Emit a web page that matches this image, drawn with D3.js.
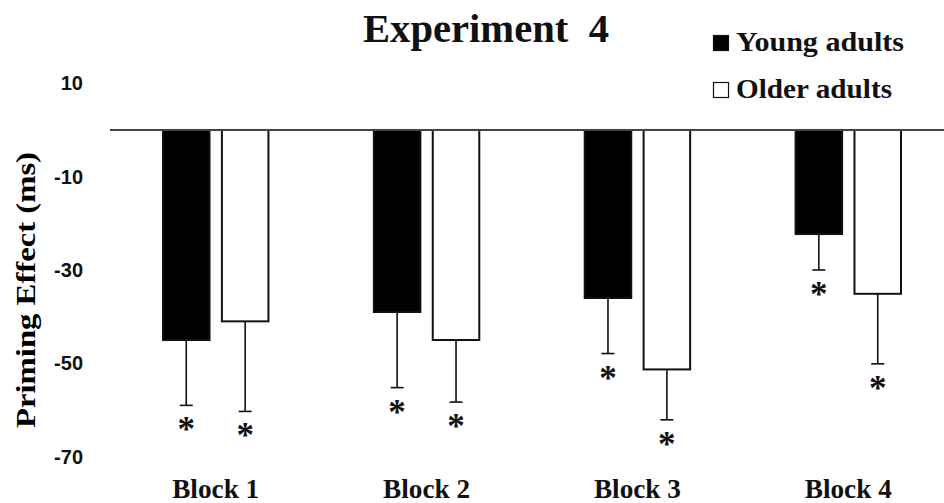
<!DOCTYPE html>
<html>
<head>
<meta charset="utf-8">
<script src="https://cdn.jsdelivr.net/npm/d3@7"></script>
<style>
  html, body { margin: 0; padding: 0; background: #fff; }
  svg { display: block; }
</style>
</head>
<body>
<svg id="chart" width="944" height="503"></svg>
<script>
// Priming effect (ms) per block, with the standard error shown below each bar
const blocks = ["Block 1", "Block 2", "Block 3", "Block 4"];
const groups = ["Young adults", "Older adults"];
const youngMeans = [-45, -39, -36, -22.3];
const youngSE = [14, 16.2, 11.9, 7.7];
const olderMeans = [-41, -45, -51.3, -35.1];
const olderSE = [19.3, 13.3, 10.8, 15];
const yTicks = [10, -10, -30, -50, -70];

const rows = blocks.map((b, i) => ({
  block: b,
  values: [
    { group: groups[0], mean: youngMeans[i], se: youngSE[i] },
    { group: groups[1], mean: olderMeans[i], se: olderSE[i] }
  ]
}));

const svg = d3.select("#chart");
const serif = "'Liberation Serif', 'Times New Roman', serif";
const sans = "'Liberation Sans', Arial, sans-serif";

const y = d3.scaleLinear().domain([-70, 10]).range([456.7, 83.3]);
const x0 = d3.scaleBand().domain(blocks).range([163, 901]).paddingInner(0.5).paddingOuter(0);
const x1 = d3.scaleBand().domain(groups).range([0, x0.bandwidth()]).paddingInner(0.21);
const fill = d3.scaleOrdinal().domain(groups).range(["#000", "#fff"]);

// Y tick labels (no axis line), plain hyphen for negatives
const yAxis = d3.axisLeft(y).tickValues(yTicks).tickSize(0).tickPadding(0)
  .tickFormat(d => String(d));
const yg = svg.append("g").attr("transform", "translate(83,0)").call(yAxis);
yg.select(".domain").remove();
yg.selectAll("text")
  .attr("font-family", sans).attr("font-weight", "bold")
  .attr("font-size", 20).attr("fill", "#111");

// Y title
svg.append("text")
  .attr("transform", "translate(35,290) rotate(-90)")
  .attr("text-anchor", "middle")
  .attr("font-family", serif).attr("font-weight", "bold")
  .attr("font-size", 27).attr("fill", "#000")
  .attr("textLength", 276).attr("lengthAdjust", "spacingAndGlyphs")
  .text("Priming Effect (ms)");

// Bars
const g = svg.append("g");
const blockG = g.selectAll("g.block").data(rows).join("g")
  .attr("class", "block")
  .attr("transform", d => `translate(${x0(d.block)},0)`);

blockG.selectAll("rect").data(d => d.values).join("rect")
  .attr("x", d => x1(d.group))
  .attr("width", x1.bandwidth())
  .attr("y", d => y(Math.max(0, d.mean)))
  .attr("height", d => Math.abs(y(d.mean) - y(0)))
  .attr("fill", d => fill(d.group))
  .attr("stroke", "#111").attr("stroke-width", 2);

// Error bars (lower half)
const capW = 13;
blockG.selectAll("line.err").data(d => d.values).join("line")
  .attr("class", "err")
  .attr("x1", d => x1(d.group) + x1.bandwidth() / 2)
  .attr("x2", d => x1(d.group) + x1.bandwidth() / 2)
  .attr("y1", d => y(d.mean))
  .attr("y2", d => y(d.mean - d.se))
  .attr("stroke", "#111").attr("stroke-width", 1.6);
blockG.selectAll("line.cap").data(d => d.values).join("line")
  .attr("class", "cap")
  .attr("x1", d => x1(d.group) + x1.bandwidth() / 2 - capW / 2)
  .attr("x2", d => x1(d.group) + x1.bandwidth() / 2 + capW / 2)
  .attr("y1", d => y(d.mean - d.se))
  .attr("y2", d => y(d.mean - d.se))
  .attr("stroke", "#111").attr("stroke-width", 1.6);

// Significance markers
blockG.selectAll("text.sig").data(d => d.values).join("text")
  .attr("class", "sig")
  .attr("x", d => x1(d.group) + x1.bandwidth() / 2)
  .attr("y", d => y(d.mean - d.se) + 36)
  .attr("text-anchor", "middle")
  .attr("font-family", serif).attr("font-weight", "bold")
  .attr("font-size", 35).attr("fill", "#111")
  .text("*");

// Zero line
svg.append("line")
  .attr("x1", 110).attr("x2", 944)
  .attr("y1", y(0)).attr("y2", y(0))
  .attr("stroke", "#444").attr("stroke-width", 2);

// X category labels
svg.append("g").selectAll("text").data(blocks).join("text")
  .attr("x", d => x0(d) + x0.bandwidth() / 2)
  .attr("y", 498)
  .attr("text-anchor", "middle")
  .attr("font-family", serif).attr("font-weight", "bold")
  .attr("font-size", 27).attr("fill", "#111")
  .attr("textLength", 87).attr("lengthAdjust", "spacingAndGlyphs")
  .text(d => d);

// Title
svg.append("text")
  .attr("x", 363).attr("y", 42)
  .attr("font-family", serif).attr("font-weight", "bold")
  .attr("font-size", 40).attr("fill", "#111")
  .attr("textLength", 246).attr("lengthAdjust", "spacingAndGlyphs")
  .attr("xml:space", "preserve")
  .text("Experiment  4");

// Legend
const legend = svg.append("g").selectAll("g").data(groups).join("g")
  .attr("transform", (d, i) => `translate(713,${35 + i * 47})`);
legend.append("rect")
  .attr("x", 0.5).attr("y", 0.5).attr("width", 15).attr("height", 15)
  .attr("fill", d => fill(d)).attr("stroke", "#111").attr("stroke-width", 1.2);
legend.append("text")
  .attr("x", 23).attr("y", 16)
  .attr("font-family", serif).attr("font-weight", "bold")
  .attr("font-size", 27).attr("fill", "#111")
  .attr("textLength", (d, i) => i === 0 ? 168 : 156).attr("lengthAdjust", "spacingAndGlyphs")
  .text(d => d);
</script>
</body>
</html>
